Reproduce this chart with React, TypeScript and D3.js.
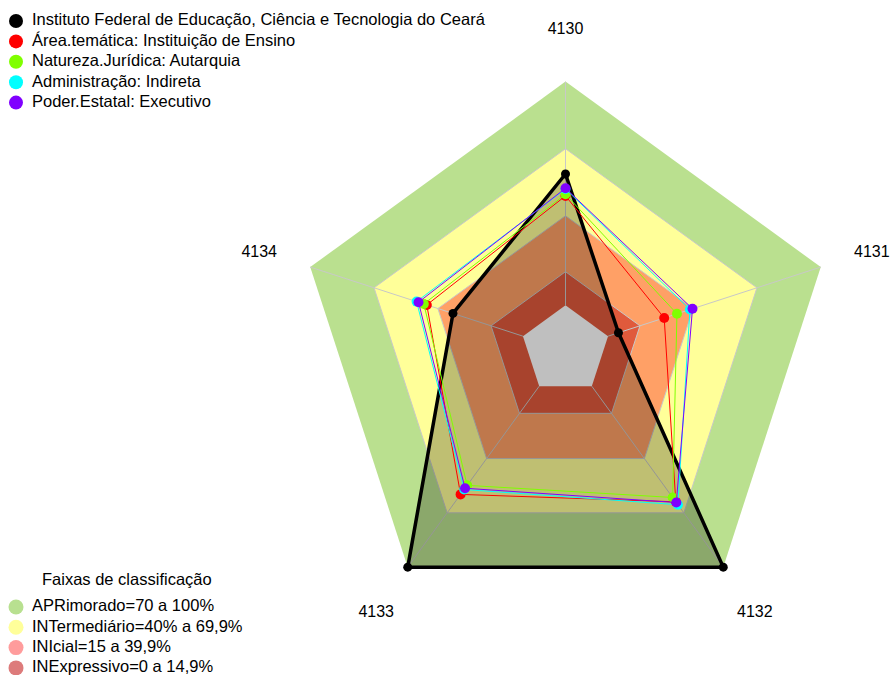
import * as d3 from "d3";

const axes = ["4130", "4131", "4132", "4133", "4134"];

const seriesNames = [
  "Instituto Federal de Educação, Ciência e Tecnologia do Ceará",
  "Área.temática: Instituição de Ensino",
  "Natureza.Jurídica: Autarquia",
  "Administração: Indireta",
  "Poder.Estatal: Executivo",
];
const seriesColors = ["#000000", "#FF0000", "#80FF00", "#00FFFF", "#8000FF"];

// values in %, axis order 4130, 4131, 4132, 4133, 4134
const ifce = [58.7, 4.9, 100, 100, 32.9];
const areaTematica = [48.9, 26.4, 63.9, 59.8, 45.2];
const naturezaJuridica = [49.6, 32.4, 61.5, 54.8, 46.6];
const administracao = [52.0, 38.5, 65.5, 57.1, 50.0];
const poderEstatal = [52.3, 39.7, 64.3, 56.4, 49.1];
const seriesValues = [ifce, areaTematica, naturezaJuridica, administracao, poderEstatal];

// classification bands
const bandNames = [
  "APRimorado=70 a 100%",
  "INTermediário=40% a 69,9%",
  "INIcial=15 a 39,9%",
  "INExpressivo=0 a 14,9%",
];
const bandUpper = [100, 70, 40, 15];
const bandFill = ["#BAE08F", "#FFFF99", "#FFA066", "#E05A3C"];
const bandLegendColors = ["#B8E090", "#FFFF9A", "#FF9C9C", "#DD7B7B"];

const width = 890;
const height = 675;
const cx = 565.5;
const cy = 350;
const R = 268.4;
const font = "'Liberation Sans', Arial, sans-serif";

export default function App() {
  const r = d3.scaleLinear().domain([0, 100]).range([R / 6, R]);
  const angle = (i: number) => (i * 2 * Math.PI) / axes.length;

  const radial = d3
    .lineRadial<number>()
    .angle((_, i) => angle(i))
    .radius((d) => r(d))
    .curve(d3.curveLinearClosed);

  const pt = (v: number, i: number): [number, number] => {
    const a = angle(i) - Math.PI / 2;
    return [cx + r(v) * Math.cos(a), cy + r(v) * Math.sin(a)];
  };

  const full = (v: number) => axes.map(() => v);

  return (
    <svg
      width={width}
      height={height}
      style={{ position: "absolute", left: 0, top: 0, background: "#fff" }}
      fontFamily={font}
    >
      <g transform={`translate(${cx},${cy})`}>
        {bandUpper.map((u, k) => (
          <path key={k} d={radial(full(u)) ?? ""} fill={bandFill[k]} />
        ))}
        <path d={radial(full(0)) ?? ""} fill="#FFFFFF" />
        {[70, 40, 15].map((u) => (
          <path key={u} d={radial(full(u)) ?? ""} fill="none" stroke="#C8C8C8" strokeWidth={1} />
        ))}
      </g>
      {axes.map((_, i) => {
        const [x1, y1] = pt(0, i);
        const [x2, y2] = pt(100, i);
        return <line key={i} x1={x1} y1={y1} x2={x2} y2={y2} stroke="#C8C8C8" strokeWidth={1} />;
      })}
      <g transform={`translate(${cx},${cy})`}>
        <path d={radial(ifce) ?? ""} fill="rgba(0,0,0,0.25)" stroke="none" />
      </g>
      {seriesValues.map((vals, s) => (
        <g key={s}>
          <g transform={`translate(${cx},${cy})`}>
            <path
              d={radial(vals) ?? ""}
              fill="none"
              stroke={seriesColors[s]}
              strokeWidth={s === 0 ? 3.5 : 1}
              strokeLinejoin="round"
            />
          </g>
          {vals.map((v, i) => {
            const [x, y] = pt(v, i);
            return <circle key={i} cx={x} cy={y} r={s === 0 ? 4.5 : 5} fill={seriesColors[s]} />;
          })}
        </g>
      ))}
      {axes.map((a, i) => {
        const ang = angle(i) - Math.PI / 2;
        return (
          <text
            key={a}
            x={cx + R * 1.2 * Math.cos(ang)}
            y={cy + R * 1.2 * Math.sin(ang) + 2}
            textAnchor="middle"
            dominantBaseline="middle"
            fontSize={16}
          >
            {a}
          </text>
        );
      })}
      {seriesNames.map((n, s) => (
        <g key={n} transform={`translate(0,${21 + s * 20.4})`}>
          <circle cx={16} cy={0} r={7} fill={seriesColors[s]} />
          <text x={32} y={0} dominantBaseline="middle" fontSize={16.5}>
            {n}
          </text>
        </g>
      ))}
      <text x={42} y={581} dominantBaseline="middle" fontSize={16.5}>
        Faixas de classificação
      </text>
      {bandNames.map((n, k) => (
        <g key={n} transform={`translate(0,${607 + k * 20.3})`}>
          <circle cx={16} cy={0} r={7.5} fill={bandLegendColors[k]} />
          <text x={32} y={0} dominantBaseline="middle" fontSize={16.5}>
            {n}
          </text>
        </g>
      ))}
    </svg>
  );
}
